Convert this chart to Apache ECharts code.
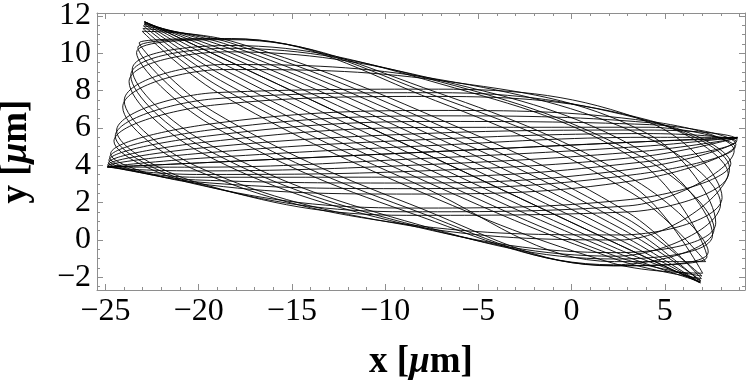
<!DOCTYPE html>
<html>
<head>
<meta charset="utf-8">
<script src="https://cdn.jsdelivr.net/npm/echarts@6/dist/echarts.min.js"></script>
<style>
  html, body { margin: 0; padding: 0; background: #fff; }
  #chart { width: 747px; height: 380px; }
</style>
</head>
<body>
<div id="chart"></div>
<script>
// trajectory, one row per loop (x, y in µm)
const firstHalf = [
  [[8.9,5.5],[3.95,5.27],[-8,4.7],[-19.95,4.13],[-24.9,3.9],[-19.95,4.13],[-8,4.7],[3.95,5.27]],
  [[8.89,5.44],[3.81,4.75],[-8.17,4.02],[-20.06,3.7],[-24.89,3.96],[-19.81,4.65],[-7.83,5.38],[4.06,5.7]],
  [[8.84,5.27],[3.66,4.16],[-8.34,3.37],[-20.15,3.36],[-24.84,4.13],[-19.66,5.24],[-7.66,6.03],[4.15,6.04]],
  [[8.77,4.98],[3.5,3.52],[-8.5,2.75],[-20.21,3.12],[-24.77,4.42],[-19.5,5.88],[-7.5,6.65],[4.21,6.28]],
  [[8.54,4.11],[3.15,2.17],[-8.77,1.71],[-20.24,3.01],[-24.54,5.29],[-19.15,7.23],[-7.23,7.69],[4.24,6.39]],
  [[8.4,3.55],[2.98,1.5],[-8.87,1.32],[-20.21,3.12],[-24.4,5.85],[-18.98,7.9],[-7.13,8.08],[4.21,6.28]],
  [[8.07,2.28],[2.67,0.27],[-8.99,0.86],[-20.06,3.7],[-24.07,7.12],[-18.67,9.13],[-7.02,8.54],[4.06,5.7]],
  [[7.73,0.92],[2.42,-0.68],[-8.99,0.86],[-19.81,4.65],[-23.73,8.48],[-18.42,10.08],[-7.02,8.54],[3.81,4.75]],
  [[7.56,0.27],[2.33,-1.02],[-8.94,1.03],[-19.66,5.24],[-23.56,9.13],[-18.33,10.42],[-7.06,8.37],[3.66,4.16]],
  [[7.26,-0.91],[2.24,-1.37],[-8.77,1.71],[-19.33,6.55],[-23.26,10.31],[-18.24,10.77],[-7.23,7.69],[3.33,2.85]],
  [[7.03,-1.78],[2.27,-1.26],[-8.5,2.75],[-18.98,7.9],[-23.03,11.18],[-18.27,10.66],[-7.5,6.65],[2.98,1.5]],
  [[6.96,-2.07],[2.33,-1.02],[-8.34,3.37],[-18.82,8.54],[-22.96,11.47],[-18.33,10.42],[-7.66,6.03],[2.82,0.86]],
  [[6.92,-2.24],[2.42,-0.68],[-8.17,4.02],[-18.67,9.13],[-22.92,11.64],[-18.42,10.08],[-7.83,5.38],[2.67,0.27]],
  [[6.9,-2.3],[2.53,-0.25],[-8,4.7],[-18.53,9.65],[-22.9,11.7],[-18.53,9.65],[-8,4.7],[2.53,-0.25]]
];
const secondHalf = [
  [[6.9,-2.28],[2.6,0],[-7.91,5.04],[-18.47,9.88],[-22.9,11.68],[-18.6,9.4],[-8.09,4.36],[2.47,-0.48]],
  [[6.93,-2.17],[2.74,0.56],[-7.74,5.71],[-18.37,10.27],[-22.93,11.57],[-18.74,8.84],[-8.26,3.69],[2.37,-0.87]],
  [[6.99,-1.93],[2.9,1.18],[-7.58,6.35],[-18.3,10.56],[-22.99,11.33],[-18.9,8.22],[-8.42,3.05],[2.3,-1.16]],
  [[7.19,-1.16],[3.24,2.51],[-7.29,7.46],[-18.24,10.79],[-23.19,10.56],[-19.24,6.89],[-8.71,1.94],[2.24,-1.39]],
  [[7.33,-0.64],[3.41,3.19],[-7.18,7.89],[-18.26,10.73],[-23.33,10.04],[-19.41,6.21],[-8.82,1.51],[2.26,-1.33]],
  [[7.64,0.59],[3.74,4.46],[-7.03,8.47],[-18.37,10.27],[-23.64,8.81],[-19.74,4.94],[-8.97,0.93],[2.37,-0.87]],
  [[7.99,1.94],[4.01,5.5],[-7,8.58],[-18.6,9.4],[-23.99,7.46],[-20.01,3.9],[-9,0.82],[2.6,0]],
  [[8.47,3.84],[4.23,6.35],[-7.18,7.89],[-19.07,7.57],[-24.47,5.56],[-20.23,3.05],[-8.82,1.51],[3.07,1.83]],
  [[8.72,4.79],[4.23,6.35],[-7.43,6.94],[-19.41,6.21],[-24.72,4.61],[-20.23,3.05],[-8.57,2.46],[3.41,3.19]],
  [[8.81,5.13],[4.18,6.18],[-7.58,6.35],[-19.58,5.56],[-24.81,4.27],[-20.18,3.22],[-8.42,3.05],[3.58,3.84]],
  [[8.87,5.37],[4.11,5.89],[-7.74,5.71],[-19.74,4.94],[-24.87,4.03],[-20.11,3.51],[-8.26,3.69],[3.74,4.46]],
  [[8.9,5.48],[4.01,5.5],[-7.91,5.04],[-19.88,4.38],[-24.9,3.92],[-20.01,3.9],[-8.09,4.36],[3.88,5.02]]
];
const endPoint = [8.9, 5.5];

const xRange = [-25.45, 9.3];
const yRange = [-2.68, 12.16];
const xStep = 5, xMinorStep = 1;
const yStep = 2, yMinorStep = 0.5;

const path = firstHalf.flat().concat(secondHalf.flat(), [endPoint]);

const frame = '#8e8e8e';
const serif = 'Liberation Serif';

// proper minus sign, only on the major multiples
const fmt = step => v => {
  const r = v / step;
  if (Math.abs(r - Math.round(r)) > 1e-6) return '';
  return String(Math.round(v)).replace('-', '\u2212');
};

function axis(dim, pos, step, len, withLine, opts) {
  const range = dim === 'x' ? xRange : yRange;
  return Object.assign({
    type: 'value',
    position: pos,
    min: range[0],
    max: range[1],
    minInterval: step,
    maxInterval: step,
    splitNumber: Math.round((range[1] - range[0]) / step),
    axisLine: { show: withLine, onZero: false, lineStyle: { color: frame, width: 1 } },
    axisTick: { show: true, inside: true, length: len, lineStyle: { color: frame, width: 1 } },
    axisLabel: { show: false },
    splitLine: { show: false },
    minorTick: { show: false },
    minorSplitLine: { show: false }
  }, opts || {});
}

const nameStyle = {
  color: '#000',
  rich: {
    b: { fontFamily: serif, fontSize: 37, fontWeight: 'bold', color: '#000' },
    i: { fontFamily: serif, fontSize: 37, fontWeight: 'bold', fontStyle: 'italic', color: '#000' }
  }
};

const chart = echarts.init(document.getElementById('chart'), null, { renderer: 'canvas' });

chart.setOption({
  animation: false,
  backgroundColor: '#fff',
  grid: { left: 97, right: 2, top: 13, bottom: 90, containLabel: false, outerBoundsMode: 'none' },
  xAxis: [
    axis('x', 'bottom', xStep, 6, true, {
      axisLabel: { show: true, formatter: fmt(xStep), color: '#000', fontFamily: serif, fontSize: 32, margin: 6 },
      name: '{b|x [}{i|\u03bc}{b|m]}',
      nameLocation: 'middle',
      nameGap: 54,
      nameMoveOverlap: false,
      nameTextStyle: nameStyle
    }),
    axis('x', 'bottom', xMinorStep, 3, false),
    axis('x', 'top', xStep, 6, true),
    axis('x', 'top', xMinorStep, 3, false)
  ],
  yAxis: [
    axis('y', 'left', yStep, 6, true, {
      axisLabel: { show: true, formatter: fmt(yStep), color: '#000', fontFamily: serif, fontSize: 32, margin: 6 },
      name: '{b|y [}{i|\u03bc}{b|m]}',
      nameLocation: 'middle',
      nameGap: 62,
      nameMoveOverlap: false,
      nameTextStyle: nameStyle
    }),
    axis('y', 'left', yMinorStep, 3, false),
    axis('y', 'right', yStep, 6, true),
    axis('y', 'right', yMinorStep, 3, false)
  ],
  series: [{
    type: 'line',
    xAxisIndex: 0,
    yAxisIndex: 0,
    data: path,
    showSymbol: false,
    symbol: 'none',
    smooth: 0.38,
    clip: true,
    silent: true,
    lineStyle: { color: '#000', width: 0.9 }
  }]
});
</script>
</body>
</html>
